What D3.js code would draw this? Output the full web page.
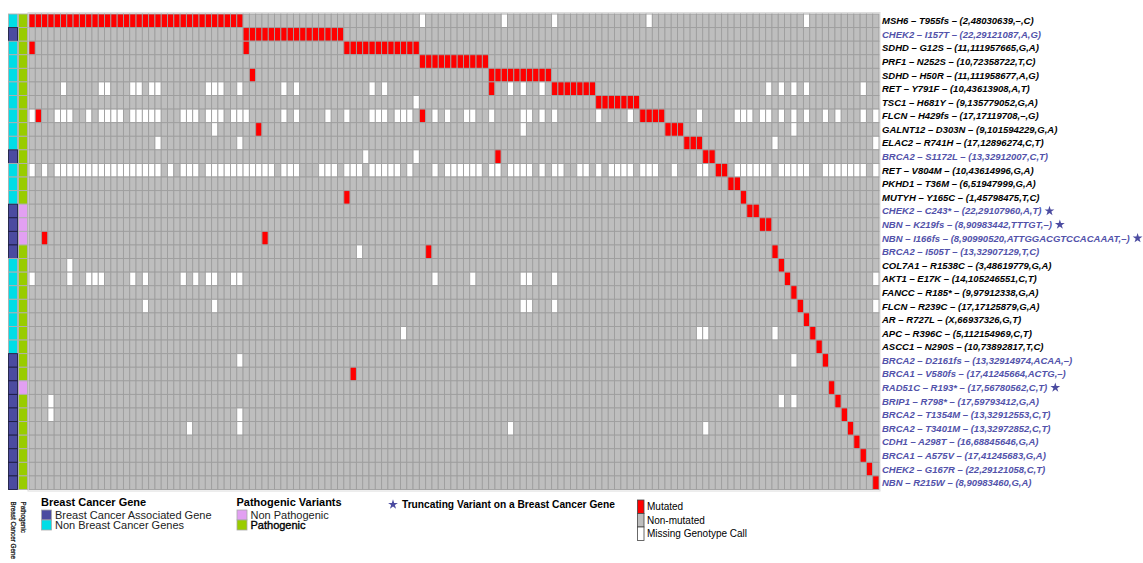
<!DOCTYPE html>
<html>
<head>
<meta charset="utf-8">
<script src="https://cdn.jsdelivr.net/npm/d3@7"></script>
<style>
  body { margin: 0; background: #fff; }
  svg { display: block; font-family: "Liberation Sans", Arial, Helvetica, sans-serif; }
</style>
</head>
<body>
<svg id="chart" width="1143" height="563"></svg>
<script>
// ---- Variants (rows), top to bottom ----
const variantLabels = [
  "MSH6 – T955fs – (2,48030639,–,C)",
  "CHEK2 – I157T – (22,29121087,A,G)",
  "SDHD – G12S – (11,111957665,G,A)",
  "PRF1 – N252S – (10,72358722,T,C)",
  "SDHD – H50R – (11,111958677,A,G)",
  "RET – Y791F – (10,43613908,A,T)",
  "TSC1 – H681Y – (9,135779052,G,A)",
  "FLCN – H429fs – (17,17119708,–,G)",
  "GALNT12 – D303N – (9,101594229,G,A)",
  "ELAC2 – R741H – (17,12896274,C,T)",
  "BRCA2 – S1172L – (13,32912007,C,T)",
  "RET – V804M – (10,43614996,G,A)",
  "PKHD1 – T36M – (6,51947999,G,A)",
  "MUTYH – Y165C – (1,45798475,T,C)",
  "CHEK2 – C243* – (22,29107960,A,T)",
  "NBN – K219fs – (8,90983442,TTTGT,–)",
  "NBN – I166fs – (8,90990520,ATTGGACGTCCACAAAT,–)",
  "BRCA2 – I505T – (13,32907129,T,C)",
  "COL7A1 – R1538C – (3,48619779,G,A)",
  "AKT1 – E17K – (14,105246551,C,T)",
  "FANCC – R185* – (9,97912338,G,A)",
  "FLCN – R239C – (17,17125879,G,A)",
  "AR – R727L – (X,66937326,G,T)",
  "APC – R396C – (5,112154969,C,T)",
  "ASCC1 – N290S – (10,73892817,T,C)",
  "BRCA2 – D2161fs – (13,32914974,ACAA,–)",
  "BRCA1 – V580fs – (17,41245664,ACTG,–)",
  "RAD51C – R193* – (17,56780562,C,T)",
  "BRIP1 – R798* – (17,59793412,G,A)",
  "BRCA2 – T1354M – (13,32912553,C,T)",
  "BRCA2 – T3401M – (13,32972852,C,T)",
  "CDH1 – A298T – (16,68845646,G,A)",
  "BRCA1 – A575V – (17,41245683,G,A)",
  "CHEK2 – G167R – (22,29121058,C,T)",
  "NBN – R215W – (8,90983460,G,A)"
];

// 1 = gene associated with breast cancer
const breastCancerGene = [0,1,0,0,0,0,0,0,0,0,1,0,0,0,1,1,1,1,0,0,0,0,0,0,0,1,1,1,1,1,1,1,1,1,1];
// 1 = pathogenic variant
const pathogenicVariant = [1,1,1,1,1,1,1,1,1,1,1,1,1,1,0,0,0,1,1,1,1,1,1,1,1,1,1,0,1,1,1,1,1,1,1];
// 1 = truncating variant on a breast cancer gene
const truncatingVariant = [0,0,0,0,0,0,0,0,0,0,0,0,0,0,1,1,1,0,0,0,0,0,0,0,0,0,0,1,0,0,0,0,0,0,0];

const sampleCount = 135;

// Mutated samples per variant, as [first, last] runs of sample indices
const mutatedRuns = [
  [[0,33]],
  [[34,49]],
  [[0,0],[34,34],[50,61]],
  [[62,72]],
  [[35,35],[73,82]],
  [[73,73],[83,89]],
  [[90,96]],
  [[1,1],[62,62],[97,100]],
  [[36,36],[101,103]],
  [[104,106]],
  [[74,74],[107,108]],
  [[109,110]],
  [[111,112]],
  [[50,50],[113,113]],
  [[114,115]],
  [[116,117]],
  [[2,2],[37,37]],
  [[63,63],[118,118]],
  [[119,119]],
  [[120,120]],
  [[121,121]],
  [[122,122]],
  [[123,123]],
  [[124,124]],
  [[125,125]],
  [[126,126]],
  [[51,51]],
  [[127,127]],
  [[128,128]],
  [[129,129]],
  [[130,130]],
  [[131,131]],
  [[132,132]],
  [[133,133]],
  [[134,134]]
];

// Samples with a missing genotype call per variant, as [first, last] runs
const missingRuns = [
  [[62,62],[75,75],[83,83],[98,98],[123,123]],
  [],
  [],
  [],
  [],
  [[5,5],[11,12],[16,17],[19,20],[28,30],[33,33],[40,40],[42,42],[54,54],[56,56],[76,76],[78,78],[81,81],[117,117],[119,119],[121,121],[123,123],[132,132]],
  [[61,61]],
  [[0,0],[4,6],[9,9],[11,14],[16,20],[24,26],[28,30],[32,34],[40,40],[42,42],[47,47],[50,50],[54,56],[58,60],[64,64],[66,66],[69,70],[73,73],[78,79],[81,81],[83,83],[90,90],[95,95],[106,106],[112,114],[116,117],[119,119],[121,121],[123,123],[126,126],[128,128],[132,132],[134,134]],
  [[29,29],[78,78],[121,121]],
  [[20,20],[33,33],[118,118],[134,134]],
  [[53,53],[61,61]],
  [[0,0],[2,2],[4,20],[22,22],[24,26],[28,38],[40,42],[46,48],[50,52],[54,58],[60,60],[64,64],[66,71],[73,74],[76,79],[81,81],[83,84],[87,88],[90,90],[92,95],[97,99],[102,102],[106,107],[112,117],[119,123],[126,132],[134,134]],
  [],
  [],
  [],
  [],
  [],
  [[52,52]],
  [[6,6]],
  [[0,0],[6,6],[9,11],[16,16],[18,18],[24,24],[26,26],[28,29],[32,33],[64,64],[70,70],[78,79],[83,83],[134,134]],
  [],
  [[18,18],[29,29],[78,79],[83,83],[134,134]],
  [],
  [[59,59],[106,107],[118,118]],
  [],
  [[33,33],[121,121]],
  [],
  [],
  [[3,3],[119,119],[121,121]],
  [[3,3],[33,33]],
  [[25,25],[33,33],[76,76],[107,107]],
  [],
  [],
  [],
  []
];

const statusLabels = ["Mutated", "Non-mutated", "Missing Genotype Call"];
const statusColors = { "Mutated": "#ff0000", "Non-mutated": "#bebebe", "Missing Genotype Call": "#ffffff" };

const colors = {
  breast: "#4b4ba0", nonBreast: "#00dde6",
  pathogenic: "#99cc00", nonPathogenic: "#e2a0f2",
  breastText: "#5252aa", star: "#4b4ba0"
};

// ---- Build the cell table ----
const cells = [];
variantLabels.forEach((label, r) => {
  const status = new Array(sampleCount).fill("Non-mutated");
  missingRuns[r].forEach(([a, b]) => { for (let c = a; c <= b; c++) status[c] = "Missing Genotype Call"; });
  mutatedRuns[r].forEach(([a, b]) => { for (let c = a; c <= b; c++) status[c] = "Mutated"; });
  status.forEach((s, c) => cells.push({ row: r, col: c, status: s }));
});

const svg = d3.select("#chart");
svg.append("rect").attr("width", 1143).attr("height", 563).attr("fill", "#fff");

const x = d3.scaleBand().domain(d3.range(sampleCount)).range([29, 879]).padding(0);
const y = d3.scaleBand().domain(d3.range(variantLabels.length)).range([14, 489.5]).padding(0);

// light frame around the heatmap body
svg.append("rect")
  .attr("x", 28).attr("y", 12.5).attr("width", 852).attr("height", 478.5)
  .attr("fill", "none").attr("stroke", "#dcdcdc").attr("stroke-width", 1);

// heatmap cells
svg.append("g").selectAll("rect").data(cells).join("rect")
  .attr("x", d => x(d.col))
  .attr("y", d => y(d.row))
  .attr("width", x.bandwidth())
  .attr("height", y.bandwidth())
  .attr("fill", d => statusColors[d.status])
  .attr("stroke", "#9e9e9e")
  .attr("stroke-width", 0.9);

// row annotations: breast cancer gene, pathogenic
const annX = d3.scaleBand().domain(["breast", "patho"]).range([8.5, 27.5]).paddingInner(0.1);
const annG = svg.append("g");
annG.selectAll("rect.breast").data(variantLabels).join("rect")
  .attr("class", "breast")
  .attr("x", annX("breast")).attr("y", (d, i) => y(i))
  .attr("width", annX.bandwidth()).attr("height", y.bandwidth())
  .attr("fill", (d, i) => breastCancerGene[i] ? colors.breast : colors.nonBreast)
  .attr("stroke", (d, i) => breastCancerGene[i] ? "#1c1c40" : "#b0b0b0")
  .attr("stroke-width", 0.9);
annG.selectAll("rect.patho").data(variantLabels).join("rect")
  .attr("class", "patho")
  .attr("x", annX("patho")).attr("y", (d, i) => y(i))
  .attr("width", annX.bandwidth()).attr("height", y.bandwidth())
  .attr("fill", (d, i) => pathogenicVariant[i] ? colors.pathogenic : colors.nonPathogenic)
  .attr("stroke", "#b0b0b0")
  .attr("stroke-width", 0.9);

// annotation names, written downward
[["Breast Cancer Gene", annX("breast") + annX.bandwidth() / 2],
 ["Pathogenic", annX("patho") + annX.bandwidth() / 2]].forEach(([t, cx]) => {
  svg.append("text")
    .attr("transform", `translate(${cx - 2.2},501.5) rotate(90)`)
    .attr("font-size", 6.3).attr("fill", "#111")
    .attr("stroke", "#111").attr("stroke-width", 0.25)
    .text(t);
});

// row labels
const star = d3.symbol().type(d3.symbolStar).size(30);
const labelG = svg.append("g");
variantLabels.forEach((label, i) => {
  const t = labelG.append("text")
    .attr("x", 882).attr("y", y(i) + y.bandwidth() / 2)
    .attr("dy", "0.36em")
    .attr("font-size", 9.5).attr("font-weight", "bold").attr("font-style", "italic")
    .attr("fill", breastCancerGene[i] ? colors.breastText : "#000")
    .text(label);
  if (truncatingVariant[i]) {
    const w = t.node().getComputedTextLength();
    labelG.append("path").attr("d", star)
      .attr("transform", `translate(${882 + w + 8},${y(i) + y.bandwidth() / 2})`)
      .attr("fill", colors.star);
  }
});

// ---- Legends ----
const lg = svg.append("g").attr("fill", "#000");

function legendBlock(x0, title, items) {
  lg.append("text").attr("x", x0).attr("y", 506).attr("font-size", 11)
    .attr("font-weight", "bold").text(title);
  items.forEach(([lab, col, dark], k) => {
    lg.append("rect").attr("x", x0 + 0.5).attr("y", 510 + k * 10).attr("width", 10).attr("height", 10)
      .attr("fill", col).attr("stroke", "#a8a8a8").attr("stroke-width", 0.8);
    const t = lg.append("text").attr("x", x0 + 14).attr("y", 518.8 + k * 10).attr("font-size", 11)
      .attr("fill", dark ? "#000" : "#222").text(lab);
    if (dark) t.attr("stroke", "#000").attr("stroke-width", 0.35);
  });
}
legendBlock(41, "Breast Cancer Gene", [["Breast Cancer Associated Gene", colors.breast], ["Non Breast Cancer Genes", colors.nonBreast]]);
legendBlock(236.5, "Pathogenic Variants", [["Non Pathogenic", colors.nonPathogenic], ["Pathogenic", colors.pathogenic, true]]);

lg.append("path").attr("d", star).attr("transform", "translate(393,504.5)").attr("fill", colors.star);
lg.append("text").attr("x", 402).attr("y", 507.5).attr("font-size", 10.2).attr("font-weight", "bold")
  .text("Truncating Variant on a Breast Cancer Gene");

const sy = d3.scaleBand().domain(statusLabels).range([500, 540.5]);
statusLabels.forEach(s => {
  lg.append("rect").attr("x", 637.5).attr("y", sy(s)).attr("width", 6.5).attr("height", sy.bandwidth())
    .attr("fill", statusColors[s]).attr("stroke", "#444").attr("stroke-width", 0.8);
  lg.append("text").attr("x", 647).attr("y", sy(s) + sy.bandwidth() / 2).attr("dy", "0.36em")
    .attr("font-size", 10).text(s);
});
</script>
</body>
</html>
